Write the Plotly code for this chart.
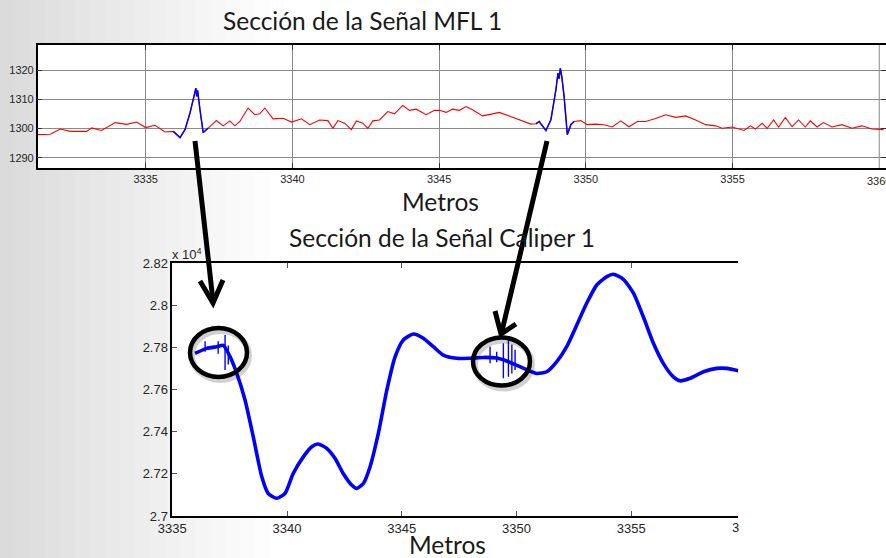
import plotly.graph_objects as go

# ---------------- data ----------------
# Top chart: MFL signal section (Metros vs amplitude)
mfl_x = [3331.33, 3331.75, 3332.09, 3332.43, 3332.99, 3333.16, 3333.50, 3333.96, 3334.35, 3334.69,
         3335.00, 3335.32, 3335.66, 3335.94, 3336.17, 3336.34, 3336.51, 3336.64, 3336.71, 3336.74,
         3336.77, 3336.85, 3336.96, 3337.13, 3337.41, 3337.64, 3337.87, 3338.04, 3338.21, 3338.49,
         3338.72, 3338.89, 3339.06, 3339.34, 3339.68, 3339.97, 3340.31, 3340.59, 3340.93, 3341.21,
         3341.38, 3341.55, 3341.78, 3342.01, 3342.18, 3342.40, 3342.57, 3342.74, 3342.97, 3343.25,
         3343.48, 3343.76, 3343.99, 3344.22, 3344.56, 3344.84, 3345.01, 3345.24, 3345.46, 3345.69,
         3345.92, 3346.14, 3346.48, 3346.82, 3347.05, 3347.39, 3347.73, 3348.13, 3348.30, 3348.41,
         3348.64, 3348.81, 3348.98, 3349.05, 3349.09, 3349.13, 3349.18, 3349.26, 3349.37, 3349.49,
         3349.60, 3349.83, 3350.05, 3350.34, 3350.62, 3350.90, 3351.19, 3351.47, 3351.76, 3352.04,
         3352.38, 3352.72, 3353.06, 3353.40, 3353.74, 3354.08, 3354.42, 3354.65, 3354.99, 3355.39,
         3355.61, 3355.78, 3356.01, 3356.18, 3356.40, 3356.57, 3356.80, 3357.03, 3357.25, 3357.48,
         3357.65, 3357.88, 3358.10, 3358.39, 3358.73, 3359.07, 3359.41, 3359.75, 3360.15]
mfl_y = [1297.9, 1298.0, 1299.8, 1299.0, 1299.0, 1300.2, 1299.3, 1302.0, 1301.4, 1302.2,
         1300.3, 1301.1, 1298.8, 1299.0, 1296.9, 1299.6, 1305.3, 1310.7, 1313.8, 1311.0,
         1313.0, 1306.4, 1298.6, 1300.1, 1302.7, 1300.9, 1302.6, 1300.9, 1302.4, 1307.0,
         1304.7, 1305.0, 1307.0, 1303.3, 1303.5, 1302.2, 1303.3, 1301.3, 1302.9, 1302.7,
         1300.1, 1302.7, 1301.8, 1299.6, 1302.6, 1301.8, 1300.0, 1302.6, 1302.9, 1305.8,
         1305.0, 1307.9, 1306.2, 1306.6, 1304.7, 1306.2, 1306.2, 1305.5, 1306.6, 1306.2,
         1307.5, 1306.4, 1304.3, 1305.0, 1305.5, 1304.3, 1302.9, 1301.5, 1301.6, 1302.4,
         1299.3, 1303.0, 1313.2, 1318.9, 1317.0, 1320.6, 1317.8, 1310.9, 1297.9, 1301.3,
         1302.4, 1302.7, 1301.3, 1301.5, 1301.3, 1300.5, 1302.6, 1300.6, 1302.4, 1302.4,
         1303.4, 1304.7, 1303.8, 1304.3, 1302.9, 1301.3, 1300.9, 1300.1, 1300.5, 1299.3,
         1300.9, 1299.8, 1301.8, 1300.0, 1302.9, 1300.5, 1303.8, 1300.6, 1302.9, 1300.5,
         1302.6, 1300.5, 1302.0, 1300.5, 1301.3, 1300.1, 1300.9, 1299.8, 1299.6]
# Highlighted (blue) peak sections of the MFL signal
peak_start = [3335.94, 3348.30]
peak_end = [3337.13, 3349.60]

# Bottom chart: Caliper signal section (values x 10^4)
cal_x = [3335.99, 3336.50, 3336.94, 3337.22, 3337.52, 3337.81, 3338.17, 3338.53, 3338.90, 3339.18,
         3339.55, 3339.91, 3340.27, 3340.71, 3341.08, 3341.36, 3341.73, 3342.09, 3342.45, 3342.82,
         3343.04, 3343.33, 3343.62, 3343.98, 3344.35, 3344.71, 3345.07, 3345.51, 3345.94, 3346.38,
         3346.81, 3347.40, 3347.98, 3348.56, 3349.14, 3349.60, 3350.15, 3350.88, 3351.32, 3351.76,
         3352.19, 3352.63, 3353.06, 3353.50, 3353.94, 3354.22, 3354.66, 3355.10, 3355.53, 3355.97,
         3356.40, 3356.84, 3357.13, 3357.57, 3358.15, 3358.73, 3359.17, 3359.67]
cal_y = [2.7772, 2.7796, 2.7804, 2.7810, 2.7756, 2.7677, 2.7551, 2.7376, 2.7186, 2.7107,
         2.7084, 2.7107, 2.7202, 2.7281, 2.7329, 2.7342, 2.7321, 2.7274, 2.7202, 2.7147,
         2.7131, 2.7155, 2.7234, 2.7392, 2.7598, 2.7756, 2.7836, 2.7864, 2.7844, 2.7804,
         2.7764, 2.7749, 2.7749, 2.7753, 2.7750, 2.7735, 2.7709, 2.7677, 2.7685, 2.7733,
         2.7804, 2.7907, 2.8010, 2.8097, 2.8137, 2.8148, 2.8124, 2.8058, 2.7946, 2.7820,
         2.7725, 2.7661, 2.7642, 2.7654, 2.7685, 2.7701, 2.7701, 2.7690]
# Noise spikes in the caliper signal (x, low, high)
spike_x = [3336.43, 3337.00, 3337.30, 3337.44, 3348.85, 3349.14, 3349.43, 3349.65, 3349.80, 3349.94]
spike_lo = [2.7780, 2.7770, 2.7693, 2.7720, 2.7725, 2.7730, 2.7654, 2.7661, 2.7677, 2.7693]
spike_hi = [2.7830, 2.7830, 2.7859, 2.7810, 2.7804, 2.7780, 2.7820, 2.7844, 2.7814, 2.7790]

mfl_ticks_x = [3335, 3340, 3345, 3350, 3355, 3360]
mfl_ticks_y = [1290, 1300, 1310, 1320]
cal_ticks_x = [3335, 3340, 3345, 3350, 3355]
cal_ticks_y = [2.70, 2.72, 2.74, 2.76, 2.78, 2.80, 2.82]
cal_ticks_y_text = ["2.7", "2.72", "2.74", "2.76", "2.78", "2.8", "2.82"]

# ---------------- figure ----------------
W, H = 886, 558
def px(x):
    return x / W
def py(y):
    return 1 - y / H

TOP_L, TOP_R, TOP_T, TOP_B = 37.7, 886.0, 45.0, 168.0
BOT_L, BOT_R, BOT_T, BOT_B = 172.3, 738.3, 263.3, 516.0

fig = go.Figure()

fig.add_trace(go.Scatter(x=mfl_x, y=mfl_y, mode="lines", line=dict(color="#ff0000", width=1.1),
                         xaxis="x", yaxis="y", hoverinfo="skip"))
for a, b in zip(peak_start, peak_end):
    sx = [x for x in mfl_x if a <= x <= b]
    sy = [y for x, y in zip(mfl_x, mfl_y) if a <= x <= b]
    fig.add_trace(go.Scatter(x=sx, y=sy, mode="lines", line=dict(color="#0000ff", width=1.5),
                             xaxis="x", yaxis="y", hoverinfo="skip"))

fig.add_trace(go.Scatter(x=cal_x, y=cal_y, mode="lines",
                         line=dict(color="#0000ff", width=3.6, shape="spline", smoothing=0.6),
                         xaxis="x2", yaxis="y2", hoverinfo="skip"))
sxs, sys = [], []
for x, lo, hi in zip(spike_x, spike_lo, spike_hi):
    sxs += [x, x, None]
    sys += [lo, hi, None]
fig.add_trace(go.Scatter(x=sxs, y=sys, mode="lines", line=dict(color="#0000ff", width=1.4),
                         xaxis="x2", yaxis="y2", hoverinfo="skip"))

tick_font_top = dict(family="Liberation Sans, Arial", size=11, color="#262626")
tick_font_bot = dict(family="Liberation Sans, Arial", size=13, color="#262626")

shapes = []
# background gradient on the left (slide background)
for i in range(1, 19):
    shapes.append(dict(type="rect", xref="paper", yref="paper", x0=0, x1=px(15 * i), y0=0, y1=1,
                       fillcolor="rgba(190,190,190,0.026)", line=dict(width=0), layer="below"))
# white plot areas on top of the background
for l, r, t, b in [(TOP_L, TOP_R, TOP_T, TOP_B), (BOT_L, BOT_R, BOT_T, BOT_B)]:
    shapes.append(dict(type="rect", xref="paper", yref="paper", x0=px(l), x1=px(r), y0=py(b), y1=py(t),
                       fillcolor="white", line=dict(width=0), layer="below"))

# arrows
arrow_style = dict(color="black", width=5)
shapes.append(dict(type="path", xref="paper", yref="paper",
                   path=f"M {px(195)} {py(141)} L {px(213)} {py(301)}", line=arrow_style))
shapes.append(dict(type="path", xref="paper", yref="paper",
                   path=f"M {px(200)} {py(281)} L {px(213)} {py(303)} L {px(223)} {py(280)}", line=arrow_style))
shapes.append(dict(type="path", xref="paper", yref="paper",
                   path=f"M {px(547)} {py(141)} L {px(502)} {py(331)}", line=arrow_style))
shapes.append(dict(type="path", xref="paper", yref="paper",
                   path=f"M {px(495)} {py(311)} L {px(501)} {py(334)} L {px(516)} {py(324)}", line=arrow_style))

# circles with soft shadow
for cx, cy, rx, ry in [(218.5, 352.5, 28.5, 24.5), (501.5, 361.5, 28.5, 24.0)]:
    shapes.append(dict(type="circle", xref="paper", yref="paper",
                       x0=px(cx - rx + 2), x1=px(cx + rx + 2), y0=py(cy + ry + 3), y1=py(cy - ry + 3),
                       line=dict(color="rgba(0,0,0,0.18)", width=6)))
    shapes.append(dict(type="circle", xref="paper", yref="paper",
                       x0=px(cx - rx), x1=px(cx + rx), y0=py(cy + ry), y1=py(cy - ry),
                       line=dict(color="black", width=4.5)))

title_font = dict(family="Lato", size=24.5, color="#1a1a1a")
annotations = [
    dict(text="Sección de la Señal MFL 1", x=px(362), y=py(21), font=title_font),
    dict(text="Metros", x=px(440), y=py(201), font=title_font),
    dict(text="Sección de la Señal Caliper 1", x=px(442), y=py(237), font=title_font),
    dict(text="Metros", x=px(447), y=py(544), font=title_font),
    dict(text="x 10<sup>4</sup>", x=px(170), y=py(254), xanchor="left",
         font=dict(family="Liberation Sans, Arial", size=13, color="#262626")),
    dict(text="3360", x=px(879.3), y=py(181), font=tick_font_top),
    dict(text="3", x=px(730), y=py(527), xanchor="left", font=tick_font_bot),
]
for a in annotations:
    a.update(xref="paper", yref="paper", showarrow=False)
    a.setdefault("xanchor", "center")
    a.setdefault("yanchor", "middle")

fig.update_layout(
    template="none",
    width=W, height=H,
    margin=dict(l=0, r=0, t=0, b=0),
    paper_bgcolor="white",
    plot_bgcolor="rgba(0,0,0,0)",
    showlegend=False,
    shapes=shapes,
    annotations=annotations,
    xaxis=dict(domain=[px(TOP_L), px(TOP_R)], range=[3331.32, 3360.23], anchor="y",
               tickvals=mfl_ticks_x[:-1], ticktext=[str(v) for v in mfl_ticks_x[:-1]],
               showgrid=True, gridcolor="#8a8a8a", gridwidth=1, zeroline=False,
               showline=True, linecolor="black", linewidth=1.5, mirror="ticks",
               ticks="inside", ticklen=5, tickcolor="#333", tickfont=tick_font_top, automargin=False),
    yaxis=dict(domain=[py(TOP_B), py(TOP_T)], range=[1286.48, 1328.55], anchor="x",
               tickvals=mfl_ticks_y, ticktext=[str(v) for v in mfl_ticks_y],
               showgrid=True, gridcolor="#8a8a8a", gridwidth=1, zeroline=False,
               showline=True, linecolor="black", linewidth=1.5, mirror="ticks",
               ticks="inside", ticklen=5, tickcolor="#333", tickfont=tick_font_top, automargin=False),
    xaxis2=dict(domain=[px(BOT_L), px(BOT_R)], range=[3335, 3359.67], anchor="y2",
                tickvals=cal_ticks_x, ticktext=[str(v) for v in cal_ticks_x],
                showgrid=False, zeroline=False,
                showline=True, linecolor="black", linewidth=1.5, mirror="ticks",
                ticks="inside", ticklen=5, tickcolor="#555", tickfont=tick_font_bot, automargin=False),
    yaxis2=dict(domain=[py(BOT_B), py(BOT_T)], range=[2.70, 2.82], anchor="x2",
                tickvals=cal_ticks_y, ticktext=cal_ticks_y_text,
                showgrid=False, zeroline=False,
                showline=True, linecolor="black", linewidth=1.5, mirror=False,
                ticks="inside", ticklen=5, tickcolor="#555", tickfont=tick_font_bot, automargin=False),
)
# vertical grid line at 3360 in the top chart (its label is drawn as an annotation)
fig.add_shape(type="line", xref="x", yref="paper", x0=mfl_ticks_x[-1], x1=mfl_ticks_x[-1],
              y0=py(TOP_B), y1=py(TOP_T), line=dict(color="#8a8a8a", width=1), layer="below")

fig.write_html("out.html")
